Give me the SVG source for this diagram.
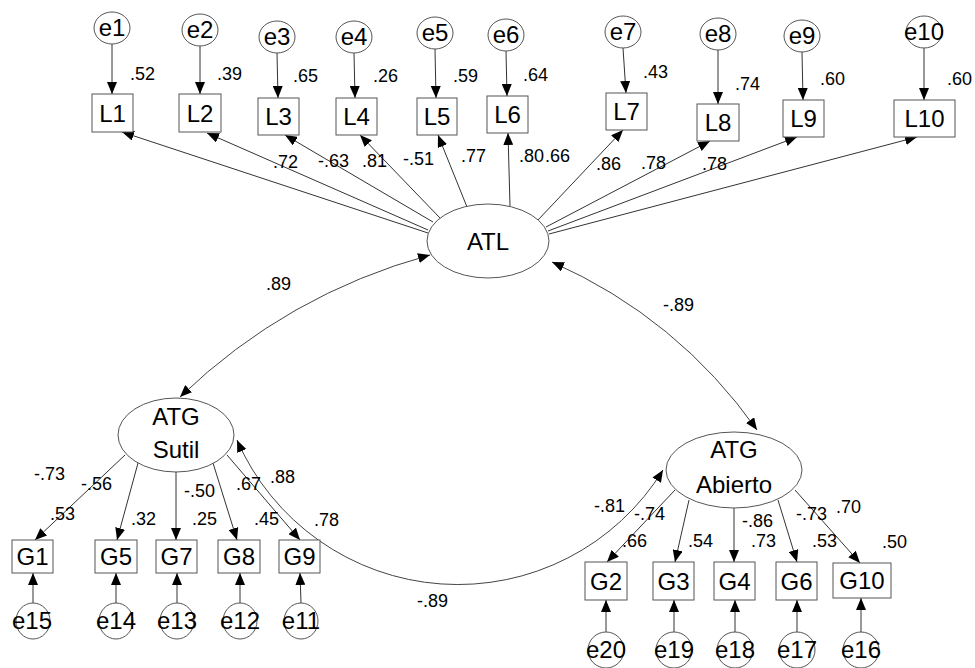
<svg xmlns="http://www.w3.org/2000/svg" width="975" height="668" viewBox="0 0 975 668">
<style>
text{font-family:"Liberation Sans",Arial,sans-serif;fill:#000}
.n{font-size:24px;text-anchor:middle}
.c{font-size:18px}
.box{fill:#fff;stroke:#555;stroke-width:1}
.ov{fill:#fff;stroke:#555;stroke-width:1}
.ln{fill:none;stroke:#333;stroke-width:1;marker-end:url(#ah)}
.cv{fill:none;stroke:#444;stroke-width:1;marker-start:url(#ah);marker-end:url(#ah)}
</style>
<defs>
<marker id="ah" viewBox="0 0 12 10" refX="12" refY="5" markerWidth="12" markerHeight="10" markerUnits="userSpaceOnUse" orient="auto-start-reverse">
<path d="M0,0 L12,5 L0,10 z" fill="#000"/>
</marker>
</defs>
<rect width="975" height="668" fill="#fff"/>
<g id="connectors">
<line class="ln" x1="112" y1="44" x2="112" y2="94"/>
<line class="ln" x1="200" y1="46" x2="200" y2="94"/>
<line class="ln" x1="277" y1="53" x2="278" y2="98"/>
<line class="ln" x1="354" y1="53" x2="355" y2="98"/>
<line class="ln" x1="435" y1="49" x2="436" y2="98"/>
<line class="ln" x1="506" y1="51" x2="507" y2="96"/>
<line class="ln" x1="623" y1="48" x2="626" y2="93"/>
<line class="ln" x1="718" y1="50" x2="718" y2="104"/>
<line class="ln" x1="802" y1="52" x2="803" y2="100"/>
<line class="ln" x1="924" y1="48" x2="924" y2="100"/>
<line class="ln" x1="428" y1="233" x2="122" y2="132"/>
<line class="ln" x1="428" y1="230" x2="207" y2="133"/>
<line class="ln" x1="433" y1="222" x2="285" y2="135"/>
<line class="ln" x1="440" y1="218" x2="360" y2="135"/>
<line class="ln" x1="467" y1="207" x2="438" y2="135"/>
<line class="ln" x1="510" y1="206" x2="508" y2="133"/>
<line class="ln" x1="538" y1="220" x2="623" y2="130"/>
<line class="ln" x1="546" y1="227" x2="710" y2="141"/>
<line class="ln" x1="548" y1="231" x2="797" y2="137"/>
<line class="ln" x1="549" y1="234" x2="917" y2="137"/>
<path class="cv" d="M180,397 Q287,294 430,255"/>
<path class="cv" d="M552,262 Q678,318 757,430"/>
<path class="cv" d="M237,440 A241,241 0 0 0 663,470"/>
<line class="ln" x1="125" y1="455" x2="35" y2="540"/>
<line class="ln" x1="138" y1="463" x2="117" y2="540"/>
<line class="ln" x1="176" y1="472" x2="176" y2="540"/>
<line class="ln" x1="213" y1="463" x2="237" y2="540"/>
<line class="ln" x1="227" y1="455" x2="300" y2="540"/>
<line class="ln" x1="675" y1="490" x2="607" y2="562"/>
<line class="ln" x1="689" y1="500" x2="675" y2="562"/>
<line class="ln" x1="734" y1="508" x2="734" y2="562"/>
<line class="ln" x1="778" y1="500" x2="797" y2="562"/>
<line class="ln" x1="795" y1="490" x2="860" y2="563"/>
<line class="ln" x1="33" y1="603" x2="33" y2="573"/>
<line class="ln" x1="116" y1="603" x2="116" y2="573"/>
<line class="ln" x1="177" y1="603" x2="177" y2="573"/>
<line class="ln" x1="240" y1="603" x2="240" y2="573"/>
<line class="ln" x1="301" y1="603" x2="300" y2="573"/>
<line class="ln" x1="606" y1="632" x2="606" y2="600"/>
<line class="ln" x1="674" y1="632" x2="674" y2="600"/>
<line class="ln" x1="735" y1="632" x2="735" y2="600"/>
<line class="ln" x1="797" y1="632" x2="797" y2="600"/>
<line class="ln" x1="861" y1="632" x2="861" y2="598"/>
</g>
<g id="labels">
<text class="c" x="130" y="80">.52</text>
<text class="c" x="217" y="80">.39</text>
<text class="c" x="293" y="82">.65</text>
<text class="c" x="373" y="82">.26</text>
<text class="c" x="453" y="82">.59</text>
<text class="c" x="523" y="81">.64</text>
<text class="c" x="643" y="78">.43</text>
<text class="c" x="735" y="90">.74</text>
<text class="c" x="820" y="85">.60</text>
<text class="c" x="947" y="85">.60</text>
<text class="c" x="273" y="168">.72</text>
<text class="c" x="318" y="167">-.63</text>
<text class="c" x="362" y="167">.81</text>
<text class="c" x="403" y="165">-.51</text>
<text class="c" x="461" y="162">.77</text>
<text class="c" x="519" y="162">.80</text>
<text class="c" x="545" y="162">.66</text>
<text class="c" x="596" y="170">.86</text>
<text class="c" x="641" y="169">.78</text>
<text class="c" x="702" y="170">.78</text>
<text class="c" x="266" y="290">.89</text>
<text class="c" x="663" y="311">-.89</text>
<text class="c" x="417" y="607">-.89</text>
<text class="c" x="34" y="480">-.73</text>
<text class="c" x="81" y="490">-.56</text>
<text class="c" x="50" y="520">.53</text>
<text class="c" x="131" y="525">.32</text>
<text class="c" x="184" y="497">-.50</text>
<text class="c" x="192" y="525">.25</text>
<text class="c" x="236" y="490">.67</text>
<text class="c" x="270" y="483">.88</text>
<text class="c" x="254" y="525">.45</text>
<text class="c" x="314" y="526">.78</text>
<text class="c" x="594" y="512">-.81</text>
<text class="c" x="634" y="520">-.74</text>
<text class="c" x="622" y="547">.66</text>
<text class="c" x="688" y="547">.54</text>
<text class="c" x="742" y="527">-.86</text>
<text class="c" x="751" y="547">.73</text>
<text class="c" x="796" y="520">-.73</text>
<text class="c" x="836" y="513">.70</text>
<text class="c" x="812" y="547">.53</text>
<text class="c" x="882" y="548">.50</text>
</g>
<g id="e1"><ellipse class="ov" cx="112" cy="28" rx="18" ry="16"/><text class="n" x="112" y="36">e1</text></g>
<g id="e2"><ellipse class="ov" cx="200" cy="30" rx="18" ry="16"/><text class="n" x="200" y="38">e2</text></g>
<g id="e3"><ellipse class="ov" cx="277" cy="37" rx="18" ry="16"/><text class="n" x="277" y="45">e3</text></g>
<g id="e4"><ellipse class="ov" cx="354" cy="37" rx="18" ry="16"/><text class="n" x="354" y="45">e4</text></g>
<g id="e5"><ellipse class="ov" cx="435" cy="33" rx="18" ry="16"/><text class="n" x="435" y="41">e5</text></g>
<g id="e6"><ellipse class="ov" cx="506" cy="35" rx="18" ry="16"/><text class="n" x="506" y="43">e6</text></g>
<g id="e7"><ellipse class="ov" cx="623" cy="32" rx="18" ry="16"/><text class="n" x="623" y="40">e7</text></g>
<g id="e8"><ellipse class="ov" cx="718" cy="34" rx="18" ry="16"/><text class="n" x="718" y="42">e8</text></g>
<g id="e9"><ellipse class="ov" cx="802" cy="36" rx="18" ry="16"/><text class="n" x="802" y="44">e9</text></g>
<g id="e10"><ellipse class="ov" cx="924" cy="32" rx="18" ry="16"/><text class="n" x="924" y="40">e10</text></g>
<g id="L1"><rect class="box" x="92" y="94" width="41" height="38"/><text class="n" x="112.5" y="122">L1</text></g>
<g id="L2"><rect class="box" x="179" y="94" width="42" height="38"/><text class="n" x="200" y="122">L2</text></g>
<g id="L3"><rect class="box" x="258" y="98" width="41" height="37"/><text class="n" x="278.5" y="125">L3</text></g>
<g id="L4"><rect class="box" x="336" y="98" width="41" height="37"/><text class="n" x="356.5" y="125">L4</text></g>
<g id="L5"><rect class="box" x="417" y="98" width="40" height="37"/><text class="n" x="437" y="125">L5</text></g>
<g id="L6"><rect class="box" x="487" y="96" width="41" height="37"/><text class="n" x="507.5" y="123">L6</text></g>
<g id="L7"><rect class="box" x="606" y="93" width="41" height="37"/><text class="n" x="626.5" y="120">L7</text></g>
<g id="L8"><rect class="box" x="697" y="104" width="42" height="37"/><text class="n" x="718" y="131">L8</text></g>
<g id="L9"><rect class="box" x="783" y="100" width="41" height="37"/><text class="n" x="803.5" y="127">L9</text></g>
<g id="L10"><rect class="box" x="894" y="100" width="61" height="37"/><text class="n" x="924.5" y="127">L10</text></g>
<g id="ATL"><ellipse class="ov" cx="488" cy="241" rx="61" ry="37"/><text class="n" x="488" y="250">ATL</text></g>
<g id="ATG_Sutil"><ellipse class="ov" cx="176" cy="435" rx="58" ry="37"/><text class="n" x="176" y="425">ATG</text><text class="n" x="176" y="458">Sutil</text></g>
<g id="ATG_Abierto"><ellipse class="ov" cx="734" cy="470" rx="68" ry="38"/><text class="n" x="734" y="458">ATG</text><text class="n" x="734" y="493">Abierto</text></g>
<g id="G1"><rect class="box" x="12" y="540" width="41" height="33"/><text class="n" x="32.5" y="565">G1</text></g>
<g id="G5"><rect class="box" x="95" y="540" width="42" height="33"/><text class="n" x="116" y="565">G5</text></g>
<g id="G7"><rect class="box" x="156" y="540" width="41" height="33"/><text class="n" x="176.5" y="565">G7</text></g>
<g id="G8"><rect class="box" x="218" y="540" width="42" height="33"/><text class="n" x="239" y="565">G8</text></g>
<g id="G9"><rect class="box" x="279" y="540" width="41" height="33"/><text class="n" x="299.5" y="565">G9</text></g>
<g id="G2"><rect class="box" x="585" y="562" width="42" height="38"/><text class="n" x="606" y="590">G2</text></g>
<g id="G3"><rect class="box" x="653" y="562" width="41" height="38"/><text class="n" x="673.5" y="590">G3</text></g>
<g id="G4"><rect class="box" x="714" y="562" width="41" height="38"/><text class="n" x="734.5" y="590">G4</text></g>
<g id="G6"><rect class="box" x="776" y="562" width="41" height="38"/><text class="n" x="796.5" y="590">G6</text></g>
<g id="G10"><rect class="box" x="833" y="563" width="58" height="35"/><text class="n" x="862" y="589">G10</text></g>
<g id="e15"><ellipse class="ov" cx="33" cy="621" rx="17" ry="18"/><text class="n" x="32" y="629">e15</text></g>
<g id="e14"><ellipse class="ov" cx="116" cy="621" rx="17" ry="18"/><text class="n" x="116" y="629">e14</text></g>
<g id="e13"><ellipse class="ov" cx="177" cy="621" rx="17" ry="18"/><text class="n" x="177" y="629">e13</text></g>
<g id="e12"><ellipse class="ov" cx="240" cy="621" rx="17" ry="18"/><text class="n" x="240" y="629">e12</text></g>
<g id="e11"><ellipse class="ov" cx="301" cy="621" rx="17" ry="18"/><text class="n" x="301" y="629">e11</text></g>
<g id="e20"><ellipse class="ov" cx="606" cy="650" rx="18" ry="18"/><text class="n" x="606" y="658">e20</text></g>
<g id="e19"><ellipse class="ov" cx="674" cy="650" rx="18" ry="18"/><text class="n" x="674" y="658">e19</text></g>
<g id="e18"><ellipse class="ov" cx="735" cy="650" rx="18" ry="18"/><text class="n" x="735" y="658">e18</text></g>
<g id="e17"><ellipse class="ov" cx="797" cy="650" rx="18" ry="18"/><text class="n" x="797" y="658">e17</text></g>
<g id="e16"><ellipse class="ov" cx="861" cy="650" rx="18" ry="18"/><text class="n" x="861" y="658">e16</text></g>
</svg>
